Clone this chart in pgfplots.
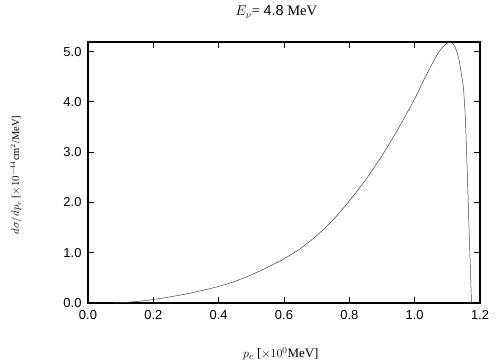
\documentclass[border=0pt]{standalone}
\usepackage{pgfplots}
\pgfplotsset{compat=1.18}
\usepackage{fontspec}
\setmainfont{Liberation Serif}
\newfontfamily\helv{Liberation Sans}
\begin{document}
\begin{tikzpicture}
\begin{axis}[
  scale only axis, width=392bp, height=261bp,
  xmin=0, xmax=1.2, ymin=0, ymax=5.19,
  xtick={0,0.2,...,1.2}, ytick={0,1,...,5},
  tick align=inside, major tick length=6bp,
  xticklabel={\helv\fontsize{13}{15}\selectfont\pgfmathprintnumber[fixed,fixed zerofill,precision=1,assume math mode=true]{\tick}},
  yticklabel={\helv\fontsize{13}{15}\selectfont\pgfmathprintnumber[fixed,fixed zerofill,precision=1,assume math mode=true]{\tick}},
  xticklabel style={yshift=-4bp},
  yticklabel style={xshift=-3bp},
  axis line style={line width=1.2pt},
  every tick/.style={black, line width=0.8pt},
  title={\fontsize{14.5}{17}\selectfont $E_\nu$= {\helv 4.8} MeV},
  title style={at={(axis description cs:0.48,1.092)}, anchor=center},
  xlabel={\fontsize{13}{15}\selectfont $p_e$ [$\times10^0$MeV]},
  xlabel style={at={(axis description cs:0.492,-0.195)}, anchor=center},
  ylabel={\fontsize{10.5}{12}\selectfont $d\sigma/dp_e$ [$\times10^{-44}$cm$^2$/MeV]},
  ylabel style={at={(axis description cs:-0.183,0.49)}, anchor=center},
  clip=true,
]
\addplot[black!75, line width=0.5pt, smooth, tension=0.4] coordinates {
(0.08,0.0) (0.1,0.005) (0.15,0.03) (0.2,0.07) (0.25,0.12) (0.3,0.18)
(0.35,0.25) (0.4,0.33) (0.45,0.43) (0.5,0.56) (0.55,0.71) (0.6,0.88)
(0.65,1.08) (0.7,1.34) (0.75,1.65) (0.8,2.03) (0.85,2.45) (0.9,2.93)
(0.95,3.47) (1.0,4.06) (1.03,4.46) (1.057,4.80) (1.075,5.0) (1.088,5.10)
(1.1,5.17) (1.107,5.19) (1.115,5.17) (1.123,5.10) (1.13,4.98) (1.137,4.80)
(1.143,4.55) (1.149,4.30) (1.155,3.7) (1.159,3.0) (1.163,2.2)
(1.167,1.36) (1.171,0.6) (1.174,0.0)
};
\end{axis}
\path[use as bounding box] (-88bp,-57bp) rectangle (416bp,303bp);
\end{tikzpicture}
\end{document}
